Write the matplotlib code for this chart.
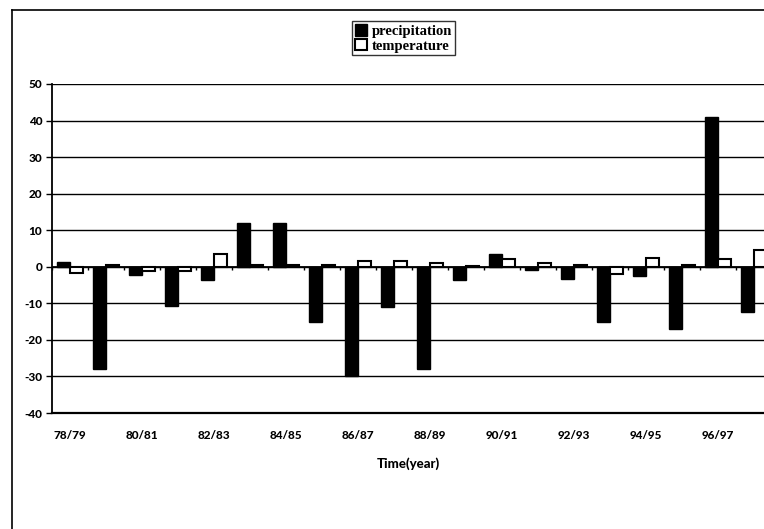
import numpy as np
import matplotlib.pyplot as plt
from matplotlib.patches import Patch
from matplotlib.lines import Line2D

years = ['78/79', '79/80', '80/81', '81/82', '82/83', '83/84', '84/85', '85/86', '86/87', '87/88',
         '88/89', '89/90', '90/91', '91/92', '92/93', '93/94', '94/95', '95/96', '96/97', '97/98']
precipitation = [1.2, -28, -2.3, -10.6, -3.7, 12, 12, -15, -30, -11,
                 -28, -3.5, 3.5, -1, -3.3, -15, -2.4, -17, 41, -12.5]
temperature = [-1.8, 0.5, -1.2, -1.2, 3.5, 0.5, 0.5, 0.5, 1.5, 1.5,
               1.0, 0.3, 2.2, 1.0, 0.5, -1.9, 2.5, 0.6, 2.0, 4.5]

plt.rcParams['axes.unicode_minus'] = False

fig = plt.figure(figsize=(7.64, 5.29), dpi=100)
ax = fig.add_axes([52 / 764, 1 - 413 / 529, 1 - 52 / 764, (413 - 84) / 529])

x = np.arange(len(years))
w = 0.35
ax.bar(x - w / 2, precipitation, w, color='black', edgecolor='black', linewidth=1, zorder=3)
ax.bar(x + w / 2, temperature, w, color='white', edgecolor='black', linewidth=1.5, zorder=3)

ax.set_xlim(-0.5, 19.28)
ax.set_ylim(-40, 50)
ax.set_yticks(range(-40, 51, 10))
for v in range(-30, 51, 10):
    ax.axhline(v, color='black', linewidth=1, zorder=1)
ax.axhline(0, color='black', linewidth=1.3, zorder=2)
# small category tick marks hanging from the zero line
ax.vlines(np.arange(len(years) + 1) - 0.5, -0.9, 0, color='black', linewidth=1, zorder=2)

ax.set_xticks(x[::2])
ax.set_xticklabels(years[::2])
ax.tick_params(axis='x', length=0, pad=12)
ax.tick_params(axis='y', length=4, width=1, direction='out', pad=3)
for lab in ax.get_xticklabels() + ax.get_yticklabels():
    lab.set_fontfamily('Lato')
    lab.set_fontweight('black')
    lab.set_fontsize(8.5)

ax.set_xlabel('Time(year)', fontfamily='Lato', fontweight='black', fontsize=9.5, labelpad=12)

for s in ['top', 'right']:
    ax.spines[s].set_visible(False)
ax.spines['left'].set_linewidth(1.3)
ax.spines['bottom'].set_linewidth(1.6)

# chart area border
fig.add_artist(Line2D([12 / 764, 12 / 764], [0, 1 - 10 / 529], color='black', linewidth=1.2,
                      transform=fig.transFigure))
fig.add_artist(Line2D([12 / 764, 1], [1 - 10 / 529, 1 - 10 / 529], color='black', linewidth=1.2,
                      transform=fig.transFigure))

handles = [Patch(facecolor='black', edgecolor='black'),
           Patch(facecolor='white', edgecolor='black', linewidth=1.5)]
leg = fig.legend(handles, ['precipitation', 'temperature'], loc='upper center',
                 bbox_to_anchor=(0.528, 0.96), fancybox=False, edgecolor='black',
                 handlelength=0.85, handleheight=0.85, handletextpad=0.3, borderpad=0.2,
                 labelspacing=0.05, borderaxespad=0,
                 prop={'family': 'Liberation Serif', 'weight': 'bold', 'size': 10.5})
leg.get_frame().set_linewidth(1)

fig.savefig('out.png', dpi=100)
